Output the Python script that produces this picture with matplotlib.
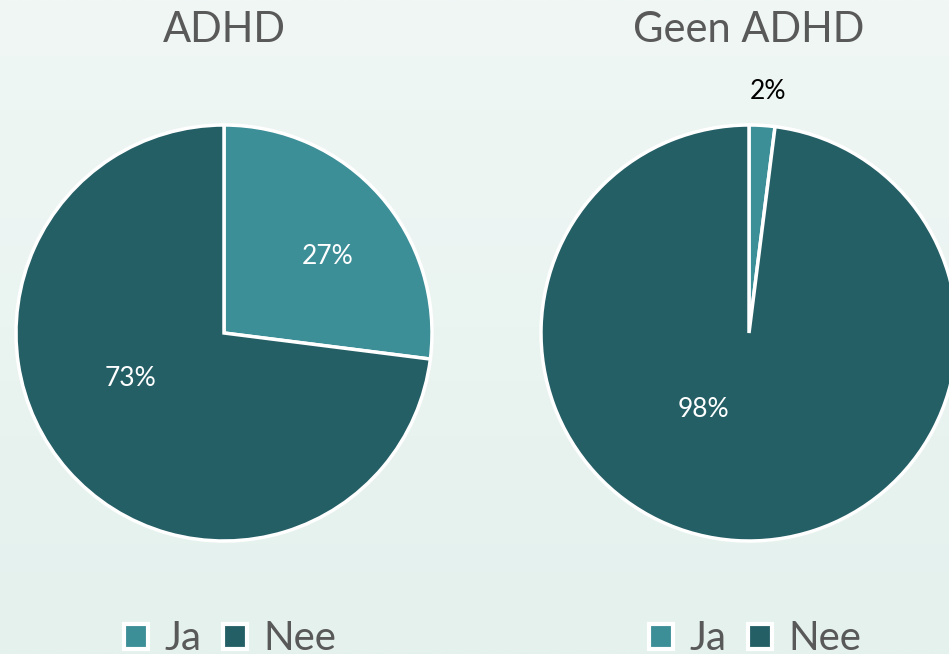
import numpy as np
import matplotlib
matplotlib.use("Agg")
import matplotlib.pyplot as plt
from matplotlib.patches import Patch
from matplotlib.colors import LinearSegmentedColormap

plt.rcParams['font.family'] = ['Lato', 'DejaVu Sans']

categories = ["Ja", "Nee"]
titles = ["ADHD", "Geen ADHD"]
values_adhd = [27, 73]
values_geen = [2, 98]
colors = ["#3C8E97", "#255F66"]

W, H = 949, 654
fig = plt.figure(figsize=(W / 100, H / 100), dpi=100)

# background gradient
bg = fig.add_axes([0, 0, 1, 1], zorder=-10)
grad = np.linspace(0, 1, 256).reshape(-1, 1)
cmap = LinearSegmentedColormap.from_list("bg", ["#F0F7F5", "#E4F1ED"])
bg.imshow(grad, aspect="auto", cmap=cmap, extent=[0, 1, 0, 1])
bg.axis("off")

R = 208
centers = [(224, 333), (749, 333)]
label_pos = [
    [(0.50, 0.37), (-0.45, -0.22)],
    [(0.09, 1.16), (-0.22, -0.37)],
]
label_colors = [["white", "white"], ["black", "white"]]

for i, (vals, title) in enumerate(zip([values_adhd, values_geen], titles)):
    cx, cy = centers[i]
    ax = fig.add_axes([(cx - R) / W, (H - cy - R) / H, 2 * R / W, 2 * R / H])
    wedges, texts, autotexts = ax.pie(
        vals, colors=colors, startangle=90, counterclock=False,
        autopct='%1.0f%%', pctdistance=0.6,
        wedgeprops=dict(edgecolor="white", linewidth=2.5),
        textprops=dict(fontsize=19),
    )
    for w in wedges:
        w.set_clip_on(False)
    for t, pos, c in zip(autotexts, label_pos[i], label_colors[i]):
        t.set_position(pos)
        t.set_color(c)
        t.set_clip_on(False)
    ax.set_xlim(-1, 1)
    ax.set_ylim(-1, 1)
    ax.set_aspect("equal")
    ax.axis("off")
    fig.text(cx / W, (H - 30) / H, title, ha="center", va="center",
             fontsize=30, color="#595959")
    handles = [Patch(facecolor=c, edgecolor="white", linewidth=3) for c in colors]
    fig.legend(handles, categories, loc="center",
               bbox_to_anchor=((cx + 6) / W, 15 / H), ncol=2, frameon=False,
               fontsize=29, handlelength=0.6, handleheight=0.6,
               handletextpad=0.4, columnspacing=0.55, labelcolor="#595959")

fig.savefig("out.png", dpi=100)
